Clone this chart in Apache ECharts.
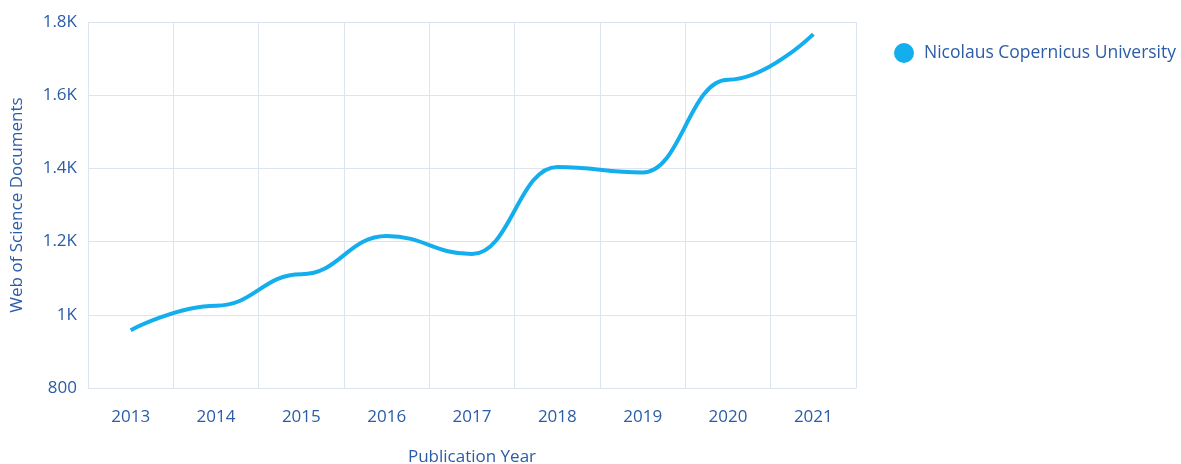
<!DOCTYPE html>
<html>
<head>
<meta charset="utf-8">
<script src="https://cdn.jsdelivr.net/npm/echarts@6/dist/echarts.min.js"></script>
<style>
html,body{margin:0;padding:0;background:#fff;}
#chart{width:1181px;height:464px;}
</style>
</head>
<body>
<div id="chart"></div>
<script>
const years = ['2013','2014','2015','2016','2017','2018','2019','2020','2021'];
const documents = [958, 1025, 1111, 1215, 1166, 1404, 1389, 1642, 1767];
const seriesName = 'Nicolaus Copernicus University';
const xAxisName = 'Publication Year';
const yAxisName = 'Web of Science Documents';

const textColor = '#2B5CA6';
const gridColor = '#DCE4F0';
const font = '"Open Sans", sans-serif';

const chart = echarts.init(document.getElementById('chart'));
chart.setOption({
  animation: false,
  textStyle: { fontFamily: font },
  grid: { left: 88, right: 325, top: 22, bottom: 76, containLabel: false, outerBoundsMode: 'none' },
  legend: {
    data: [seriesName],
    left: 889, top: 38,
    icon: 'circle', itemWidth: 20, itemHeight: 20, itemGap: 10,
    textStyle: { color: textColor, fontSize: 17.5, fontFamily: font, padding: [0, 0, 0, 5] }
  },
  xAxis: {
    type: 'category',
    data: years,
    boundaryGap: true,
    name: xAxisName,
    nameLocation: 'middle',
    nameGap: 61,
    nameTextStyle: { color: textColor, fontSize: 17, fontFamily: font },
    axisLine: { show: true, lineStyle: { color: gridColor } },
    axisTick: { show: false },
    axisLabel: { color: textColor, fontSize: 17, margin: 21, fontFamily: font },
    splitLine: { show: true, lineStyle: { color: gridColor } }
  },
  yAxis: {
    type: 'value',
    min: 800, max: 1800, interval: 200,
    name: yAxisName,
    nameLocation: 'middle',
    nameGap: 62,
    nameTextStyle: { color: textColor, fontSize: 17, fontFamily: font },
    axisLine: { show: false },
    axisTick: { show: false },
    axisLabel: {
      color: textColor, fontSize: 17, margin: 11, fontFamily: font,
      formatter: v => v >= 1000 ? (v / 1000) + 'K' : String(v)
    },
    splitLine: { show: true, lineStyle: { color: gridColor } }
  },
  series: [{
    name: seriesName,
    type: 'line',
    data: documents,
    smooth: 0.45,
    smoothMonotone: 'x',
    showSymbol: false,
    symbol: 'circle',
    itemStyle: { color: '#14AEEF' },
    lineStyle: { color: '#14AEEF', width: 4 }
  }]
});
</script>
</body>
</html>
